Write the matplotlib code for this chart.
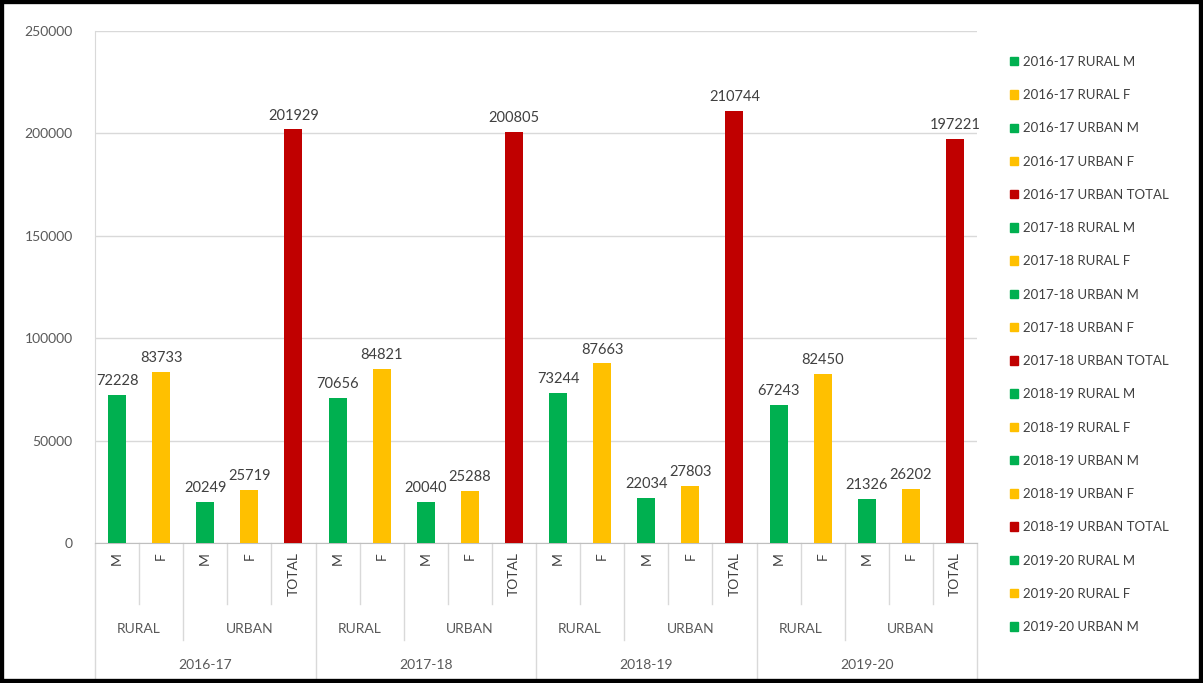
import matplotlib.pyplot as plt
import matplotlib.transforms as mtransforms
from matplotlib.patches import Patch, Rectangle

plt.rcParams["font.family"] = ["Lato", "DejaVu Sans"]

# data
years = ["2016-17", "2017-18", "2018-19", "2019-20"]
areas = ["RURAL", "RURAL", "URBAN", "URBAN", "URBAN"]
sexes = ["M", "F", "M", "F", "TOTAL"]
values_2016 = [72228, 83733, 20249, 25719, 201929]
values_2017 = [70656, 84821, 20040, 25288, 200805]
values_2018 = [73244, 87663, 22034, 27803, 210744]
values_2019 = [67243, 82450, 21326, 26202, 197221]
all_values = [values_2016, values_2017, values_2018, values_2019]

GREEN = "#00B050"
GOLD = "#FFC000"
RED = "#C00000"
sex_colors = {"M": GREEN, "F": GOLD, "TOTAL": RED}

fig = plt.figure(figsize=(12.03, 6.83), dpi=100)
ax = fig.add_axes([95 / 1203, 1 - 543 / 683, 882 / 1203, 512 / 683])

handles = []
labels = []
x = 0
for yr, vals in zip(years, all_values):
    for area, sex, v in zip(areas, sexes, vals):
        ax.bar(x, v, width=0.41, color=sex_colors[sex], zorder=3)
        ax.annotate(str(v), (x, v), xytext=(0, 5), textcoords="offset points",
                    ha="center", va="bottom", fontsize=10.5, color="#404040")
        handles.append(Patch(color=sex_colors[sex]))
        labels.append(f"{yr} {area} {sex}")
        x += 1

n = x
ax.set_xlim(-0.5, n - 0.5)
ax.set_ylim(0, 250000)
ax.set_yticks(range(0, 250001, 50000))
ax.tick_params(axis="y", length=0, pad=16, labelsize=10, labelcolor="#595959")
ax.set_xticks([])
ax.grid(axis="y", color="#D9D9D9", linewidth=1, zorder=0)
for side in ["top", "right"]:
    ax.spines[side].set_visible(False)
ax.spines["left"].set_color("#D9D9D9")
ax.spines["bottom"].set_color("#BFBFBF")

# multi-level category axis
trans = mtransforms.blended_transform_factory(ax.transData, ax.transAxes)
ax_h = 512.0


def yfrac(py):
    return -(py - 543) / ax_h


line_kw = dict(color="#D9D9D9", linewidth=1, transform=trans, clip_on=False)
for i in range(n):
    s = sexes[i % 5]
    ax.text(i, yfrac(552), s, rotation=90, ha="center", va="top",
            fontsize=10, color="#404040", transform=trans)
for i in range(n + 1):
    xb = i - 0.5
    pos = i % 5
    if pos == 0:
        bottom = 683
    elif pos == 2:
        bottom = 640
    else:
        bottom = 604
    ax.plot([xb, xb], [yfrac(543), yfrac(bottom)], **line_kw)
for k, yr in enumerate(years):
    base = k * 5
    ax.text(base + 0.5, yfrac(629), "RURAL", ha="center", va="center",
            fontsize=10, color="#595959", transform=trans)
    ax.text(base + 3, yfrac(629), "URBAN", ha="center", va="center",
            fontsize=10, color="#595959", transform=trans)
    ax.text(base + 2, yfrac(665), yr, ha="center", va="center",
            fontsize=10, color="#595959", transform=trans)

# legend: only the first 18 entries fit
fig.legend(handles[:18], labels[:18], loc="upper left",
           bbox_to_anchor=(998 / 1203, 1 - 44 / 683), frameon=False,
           fontsize=9.5, handlelength=0.6, handleheight=0.6, handletextpad=0.4,
           labelspacing=1.61, labelcolor="#404040")

# black frame round the picture
fig.patches.append(Rectangle((0, 0), 1, 1, transform=fig.transFigure,
                             fill=False, edgecolor="black", linewidth=6))

fig.savefig("out.png", dpi=100)
